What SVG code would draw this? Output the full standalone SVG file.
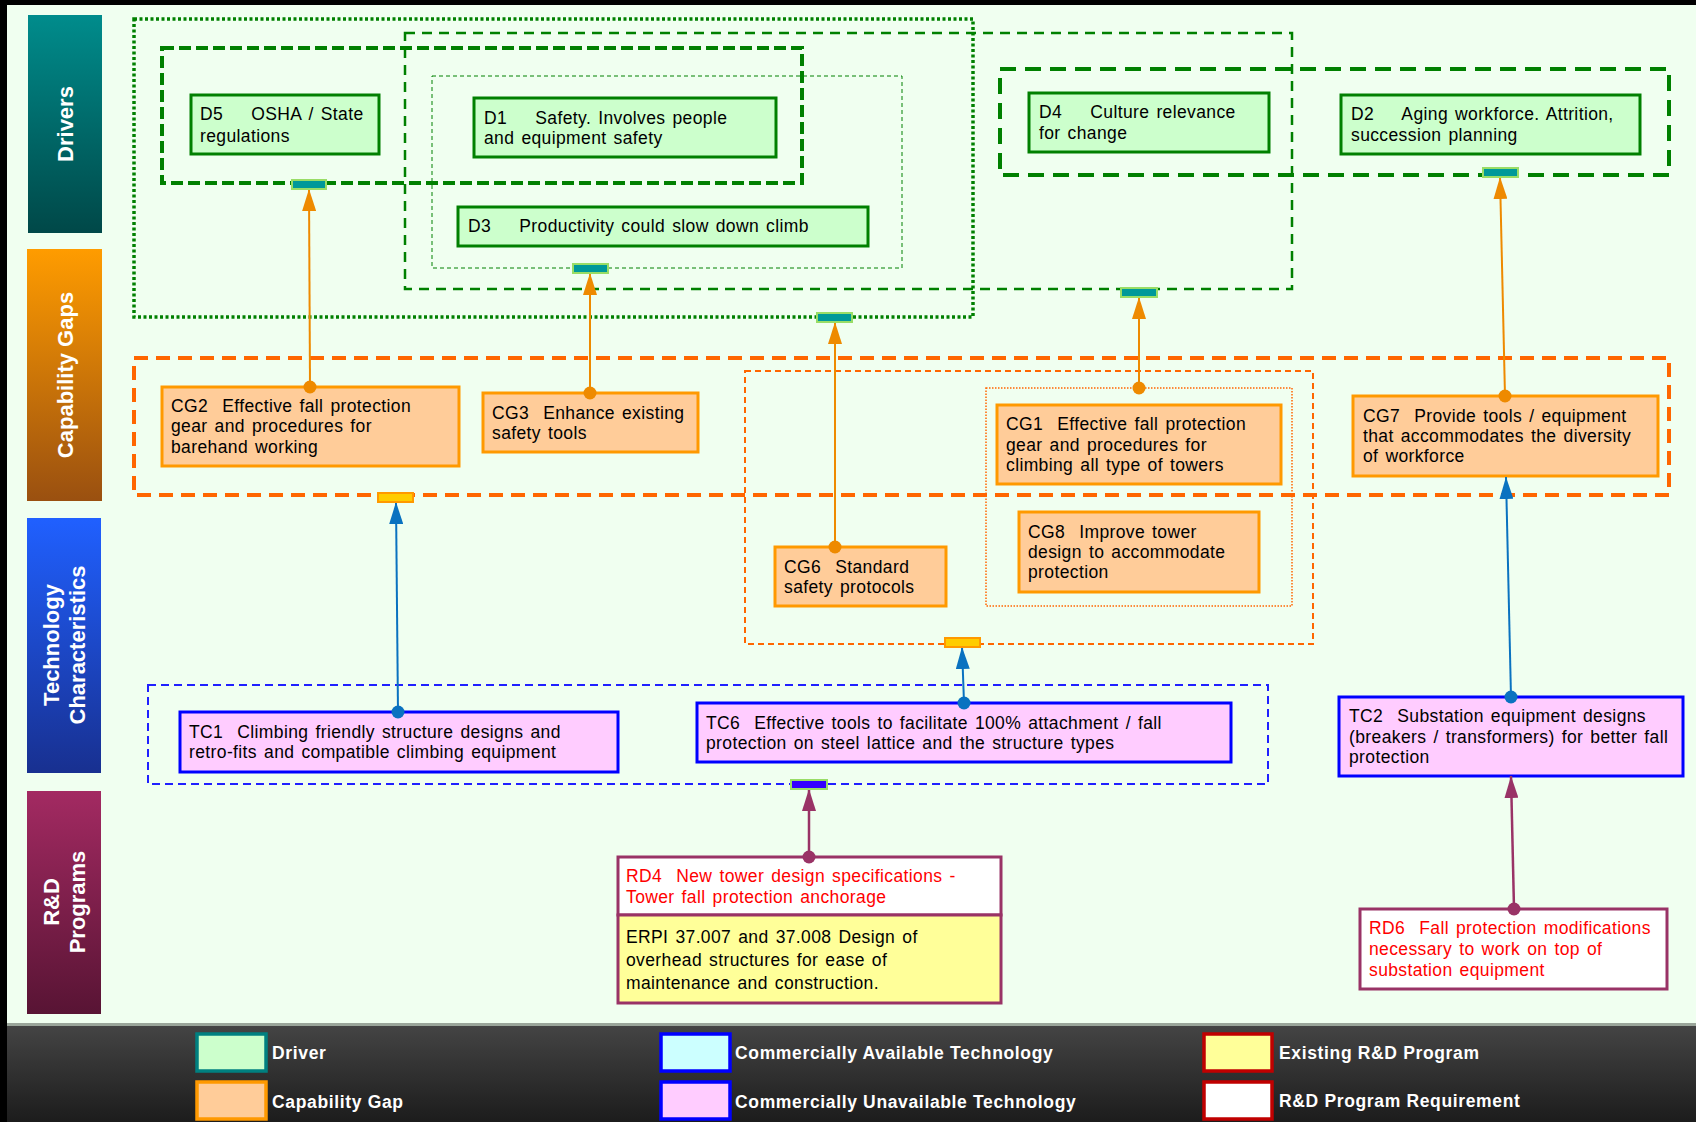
<svg xmlns="http://www.w3.org/2000/svg" width="1696" height="1122" viewBox="0 0 1696 1122">
<defs>
<linearGradient id="gDrv" x1="0" y1="0" x2="0" y2="1"><stop offset="0" stop-color="#008c8c"/><stop offset="1" stop-color="#004848"/></linearGradient>
<linearGradient id="gCg" x1="0" y1="0" x2="0" y2="1"><stop offset="0" stop-color="#ff9c00"/><stop offset="1" stop-color="#9a5010"/></linearGradient>
<linearGradient id="gTc" x1="0" y1="0" x2="0" y2="1"><stop offset="0" stop-color="#2060ff"/><stop offset="1" stop-color="#183090"/></linearGradient>
<linearGradient id="gRd" x1="0" y1="0" x2="0" y2="1"><stop offset="0" stop-color="#a32a62"/><stop offset="1" stop-color="#581434"/></linearGradient>
<linearGradient id="gFoot" x1="0" y1="0" x2="0" y2="1"><stop offset="0" stop-color="#444444"/><stop offset="1" stop-color="#1c1c1c"/></linearGradient>
<marker id="aOr" markerUnits="userSpaceOnUse" markerWidth="24" markerHeight="14" refX="22" refY="7" orient="auto"><path d="M0,0 L22,7 L0,14 z" fill="#ee8a00"/></marker>
<marker id="aBl" markerUnits="userSpaceOnUse" markerWidth="24" markerHeight="14" refX="22" refY="7" orient="auto"><path d="M0,0 L22,7 L0,14 z" fill="#0a72c0"/></marker>
<marker id="aRd" markerUnits="userSpaceOnUse" markerWidth="24" markerHeight="14" refX="22" refY="7" orient="auto"><path d="M0,0 L22,7 L0,14 z" fill="#993366"/></marker>
</defs>
<style>
text{font-family:"Liberation Sans",Arial,sans-serif;font-size:17.5px;fill:#000;word-spacing:1.8px;letter-spacing:0.38px;white-space:pre}
.band text{font-weight:bold;font-size:22px;fill:#fff;text-anchor:middle;word-spacing:0;letter-spacing:0}
.leg text{font-weight:bold;font-size:17.5px;fill:#fff;word-spacing:0;letter-spacing:0.65px}
.drv{fill:#ccffcc;stroke:#008000;stroke-width:3}
.cg{fill:#ffcc99;stroke:#ff9900;stroke-width:3}
.tc{fill:#ffccff;stroke:#0000ff;stroke-width:3}
.rdq{fill:#ffffff;stroke:#993366;stroke-width:3}
.rdx{fill:#ffff99;stroke:#993366;stroke-width:3}
.red{fill:#ff0000}
.grp{fill:none}
.pD{fill:#009999;stroke:#99dd66;stroke-width:2}
.pC{fill:#ffcc00;stroke:#ff9900;stroke-width:2}
.pT{fill:#3300ff;stroke:#99dd66;stroke-width:2}
.cOr{stroke:#ee8a00;stroke-width:2;fill:none;marker-end:url(#aOr)}
.cBl{stroke:#0a72c0;stroke-width:2;fill:none;marker-end:url(#aBl)}
.cRd{stroke:#993366;stroke-width:2.5;fill:none;marker-end:url(#aRd)}
</style>
<rect x="0" y="0" width="1696" height="1122" fill="#000"/>
<rect x="7" y="5" width="1689" height="1018" fill="#f0fff0"/>
<rect x="7" y="1023" width="1689" height="3" fill="#9aa59a"/>
<rect x="7" y="1026" width="1689" height="96" fill="url(#gFoot)"/>

<g class="band" id="bands">
<rect x="28" y="15" width="74" height="218" fill="url(#gDrv)"/>
<text transform="translate(65,124) rotate(-90)" dy="8">Drivers</text>
<rect x="27" y="249" width="75" height="252" fill="url(#gCg)"/>
<text transform="translate(65,375) rotate(-90)" dy="8">Capability Gaps</text>
<rect x="27" y="518" width="74" height="255" fill="url(#gTc)"/>
<text transform="translate(64,645) rotate(-90)"><tspan x="0" y="-5">Technology</tspan><tspan x="0" y="21">Characteristics</tspan></text>
<rect x="27" y="791" width="74" height="223" fill="url(#gRd)"/>
<text transform="translate(64,902) rotate(-90)"><tspan x="0" y="-5">R&amp;D</tspan><tspan x="0" y="21">Programs</tspan></text>
</g>

<g id="groups">
<rect class="grp" x="134" y="19" width="839" height="298" stroke="#008000" stroke-width="3.5" stroke-dasharray="3 2.5"/>
<rect class="grp" x="405" y="33" width="887" height="256" stroke="#008000" stroke-width="2.5" stroke-dasharray="10 7"/>
<rect class="grp" x="432" y="76" width="470" height="192" stroke="#008000" stroke-width="1" stroke-dasharray="4 3"/>
<rect class="grp" x="162" y="48" width="640" height="135" stroke="#008000" stroke-width="4" stroke-dasharray="12 5"/>
<rect class="grp" x="1000" y="69" width="669" height="106" stroke="#008000" stroke-width="4" stroke-dasharray="16 9"/>
<rect class="grp" x="134" y="358" width="1535" height="137" stroke="#ff6600" stroke-width="4" stroke-dasharray="14 8"/>
<rect class="grp" x="745" y="371" width="568" height="273" stroke="#ff6600" stroke-width="2" stroke-dasharray="6 4"/>
<rect class="grp" x="986" y="388" width="306" height="218" stroke="#ff6600" stroke-width="1.5" stroke-dasharray="1.5 1.5"/>
<rect class="grp" x="148" y="685" width="1120" height="99" stroke="#2020ff" stroke-width="2" stroke-dasharray="8 5"/>
</g>

<g id="D5"><rect class="drv" x="191" y="95" width="188" height="59"/><text x="200" y="120">D5&#160;&#160;&#160; OSHA / State</text><text x="200" y="142">regulations</text></g>
<g id="D1"><rect class="drv" x="474" y="98" width="302" height="59"/><text x="484" y="124">D1&#160;&#160;&#160; Safety. Involves people</text><text x="484" y="144">and equipment safety</text></g>
<g id="D3"><rect class="drv" x="458" y="207" width="410" height="39"/><text x="468" y="232">D3&#160;&#160;&#160; Productivity could slow down climb</text></g>
<g id="D4"><rect class="drv" x="1029" y="93" width="240" height="59"/><text x="1039" y="118">D4&#160;&#160;&#160; Culture relevance</text><text x="1039" y="139">for change</text></g>
<g id="D2"><rect class="drv" x="1341" y="95" width="299" height="59"/><text x="1351" y="120">D2&#160;&#160;&#160; Aging workforce. Attrition,</text><text x="1351" y="141">succession planning</text></g>

<g id="CG2"><rect class="cg" x="162" y="387" width="297" height="79"/><text x="171" y="412">CG2&#160; Effective fall protection</text><text x="171" y="432">gear and procedures for</text><text x="171" y="453">barehand working</text></g>
<g id="CG3"><rect class="cg" x="483" y="393" width="215" height="59"/><text x="492" y="419">CG3&#160; Enhance existing</text><text x="492" y="439">safety tools</text></g>
<g id="CG1"><rect class="cg" x="997" y="405" width="284" height="79"/><text x="1006" y="430">CG1&#160; Effective fall protection</text><text x="1006" y="451">gear and procedures for</text><text x="1006" y="471">climbing all type of towers</text></g>
<g id="CG8"><rect class="cg" x="1019" y="512" width="240" height="80"/><text x="1028" y="538">CG8&#160; Improve tower</text><text x="1028" y="558">design to accommodate</text><text x="1028" y="578">protection</text></g>
<g id="CG6"><rect class="cg" x="775" y="547" width="171" height="59"/><text x="784" y="573">CG6&#160; Standard</text><text x="784" y="593">safety protocols</text></g>
<g id="CG7"><rect class="cg" x="1353" y="396" width="305" height="80"/><text x="1363" y="422">CG7&#160; Provide tools / equipment</text><text x="1363" y="442">that accommodates the diversity</text><text x="1363" y="462">of workforce</text></g>

<g id="TC1"><rect class="tc" x="180" y="712" width="438" height="60"/><text x="189" y="738">TC1&#160; Climbing friendly structure designs and</text><text x="189" y="758">retro-fits and compatible climbing equipment</text></g>
<g id="TC6"><rect class="tc" x="697" y="703" width="534" height="59"/><text x="706" y="729">TC6&#160; Effective tools to facilitate 100% attachment / fall</text><text x="706" y="749">protection on steel lattice and the structure types</text></g>
<g id="TC2"><rect class="tc" x="1339" y="697" width="344" height="79"/><text x="1349" y="722">TC2&#160; Substation equipment designs</text><text x="1349" y="743">(breakers / transformers) for better fall</text><text x="1349" y="763">protection</text></g>

<g id="RD4"><rect class="rdq" x="618" y="857" width="383" height="58"/><text class="red" x="626" y="882">RD4&#160; New tower design specifications -</text><text class="red" x="626" y="903">Tower fall protection anchorage</text></g>
<g id="ERPI"><rect class="rdx" x="618" y="915" width="383" height="88"/><text x="626" y="943">ERPI 37.007 and 37.008 Design of</text><text x="626" y="966">overhead structures for ease of</text><text x="626" y="989">maintenance and construction.</text></g>
<g id="RD6"><rect class="rdq" x="1360" y="909" width="307" height="80"/><text class="red" x="1369" y="934">RD6&#160; Fall protection modifications</text><text class="red" x="1369" y="955">necessary to work on top of</text><text class="red" x="1369" y="976">substation equipment</text></g>

<g id="connectors">
<line class="cOr" x1="310" y1="387" x2="309" y2="189"/>
<line class="cOr" x1="590" y1="393" x2="590" y2="273"/>
<line class="cOr" x1="835" y1="547" x2="835" y2="322"/>
<line class="cOr" x1="1139" y1="388" x2="1139" y2="297"/>
<line class="cOr" x1="1505" y1="396" x2="1500" y2="177"/>
<line class="cBl" x1="398" y1="712" x2="396" y2="502"/>
<line class="cBl" x1="964" y1="703" x2="962" y2="647"/>
<line class="cBl" x1="1511" y1="697" x2="1506" y2="477"/>
<line class="cRd" x1="809" y1="857" x2="809" y2="789"/>
<line class="cRd" x1="1514" y1="909" x2="1511" y2="776"/>
<g fill="#ee8a00"><circle cx="310" cy="387" r="6.5"/><circle cx="590" cy="393" r="6.5"/><circle cx="835" cy="547" r="6.5"/><circle cx="1139" cy="388" r="6.5"/><circle cx="1505" cy="396" r="6.5"/></g>
<g fill="#0a72c0"><circle cx="398" cy="712" r="6.5"/><circle cx="964" cy="703" r="6.5"/><circle cx="1511" cy="697" r="6.5"/></g>
<g fill="#993366"><circle cx="809" cy="857" r="6.5"/><circle cx="1514" cy="909" r="6.5"/></g>
</g>

<g id="ports">
<rect class="pD" x="292" y="180" width="34" height="9"/>
<rect class="pD" x="573" y="264" width="35" height="9"/>
<rect class="pD" x="817" y="313" width="35" height="9"/>
<rect class="pD" x="1121" y="288" width="36" height="9"/>
<rect class="pD" x="1483" y="168" width="35" height="9"/>
<rect class="pC" x="378" y="493" width="35" height="9"/>
<rect class="pC" x="945" y="638" width="35" height="9"/>
<rect class="pT" x="791" y="780" width="36" height="9"/>
</g>

<g class="leg" id="legend">
<rect x="197" y="1034" width="69" height="37" fill="#ccffcc" stroke="#008080" stroke-width="3.5"/><text x="272" y="1059">Driver</text>
<rect x="197" y="1082" width="69" height="37" fill="#ffcc99" stroke="#ff9900" stroke-width="3.5"/><text x="272" y="1108">Capability Gap</text>
<rect x="661" y="1034" width="69" height="37" fill="#ccffff" stroke="#0000ff" stroke-width="3.5"/><text x="735" y="1059">Commercially Available Technology</text>
<rect x="661" y="1082" width="69" height="37" fill="#ffccff" stroke="#0000ff" stroke-width="3.5"/><text x="735" y="1108">Commercially Unavailable Technology</text>
<rect x="1204" y="1034" width="68" height="37" fill="#ffff99" stroke="#c00000" stroke-width="3.5"/><text x="1279" y="1059">Existing R&amp;D Program</text>
<rect x="1204" y="1082" width="68" height="37" fill="#ffffff" stroke="#c00000" stroke-width="3.5"/><text x="1279" y="1107">R&amp;D Program Requirement</text>
</g>
</svg>
